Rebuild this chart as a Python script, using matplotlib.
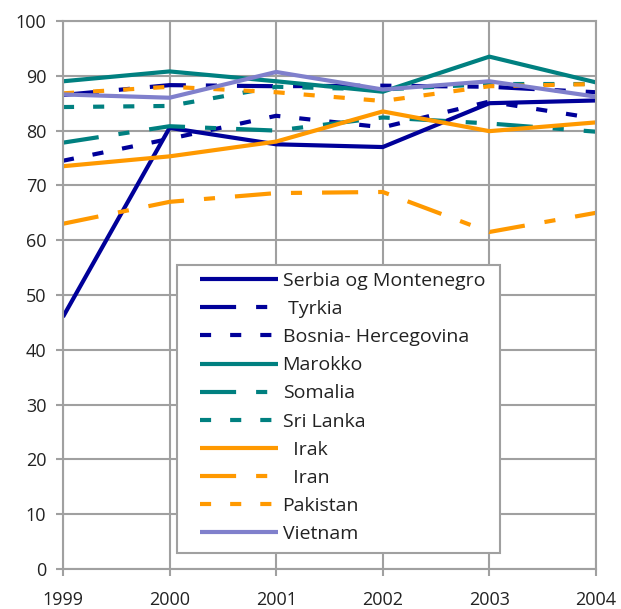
import matplotlib
matplotlib.use("Agg")
import matplotlib.pyplot as plt
from matplotlib.patches import Rectangle

years = [1999, 2000, 2001, 2002, 2003, 2004]

serbia = [46.0, 80.5, 77.5, 77.0, 85.0, 85.5]
tyrkia = [86.5, 88.3, 88.1, 88.2, 88.0, 87.0]
bosnia = [74.5, 78.5, 82.7, 80.6, 85.3, 82.2]
marokko = [89.0, 90.8, 89.0, 87.1, 93.5, 88.8]
somalia = [77.8, 80.8, 80.0, 82.4, 81.3, 79.8]
srilanka = [84.3, 84.5, 88.0, 87.5, 88.5, 88.5]
irak = [73.5, 75.3, 78.0, 83.5, 79.9, 81.5]
iran = [63.0, 67.0, 68.6, 68.8, 61.5, 65.0]
pakistan = [86.8, 88.0, 87.0, 85.4, 88.1, 88.5]
vietnam = [86.6, 86.0, 90.7, 87.5, 89.0, 86.2]

navn = ["Serbia og Montenegro", " Tyrkia", "Bosnia- Hercegovina", "Marokko",
        "Somalia", "Sri Lanka", "  Irak", "  Iran", "Pakistan", "Vietnam"]

plt.rcParams["font.family"] = ["Open Sans", "DejaVu Sans"]
plt.rcParams["lines.scale_dashes"] = False

NAVY = "#000099"
TEAL = "#008080"
ORANGE = "#FF9900"
LILLA = "#8080CC"
GRID = "#A0A0A0"

solid = "-"
langstrek = (0, (26, 14.4, 8, 14.4))
prikk = (0, (8, 13.7))

serier = [
    (serbia, NAVY, solid), (tyrkia, NAVY, langstrek), (bosnia, NAVY, prikk),
    (marokko, TEAL, solid), (somalia, TEAL, langstrek), (srilanka, TEAL, prikk),
    (irak, ORANGE, solid), (iran, ORANGE, langstrek), (pakistan, ORANGE, prikk),
    (vietnam, LILLA, solid),
]

fig = plt.figure(figsize=(6.21, 6.09), dpi=100)
ax = fig.add_axes([0.1014, 0.0657, 0.8583, 0.8998])

for (verdi, farge, stil), n in zip(serier, navn):
    ax.plot(years, verdi, color=farge, linestyle=stil, lw=3.0, label=n,
            solid_capstyle="butt", dash_capstyle="butt")

ax.set_xlim(1999, 2004)
ax.set_ylim(0, 100)
ax.set_xticks(years)
ax.set_yticks(range(0, 101, 10))
ax.grid(True, color=GRID, lw=1.5)
ax.set_axisbelow(True)
for s in ax.spines.values():
    s.set_color(GRID)
    s.set_linewidth(1.5)
ax.tick_params(colors=GRID, width=1.5, length=5, labelcolor="#222222",
               labelsize=13)
ax.tick_params(axis="y", pad=7)
ax.tick_params(axis="x", pad=11)

# legend-ramme tegnes for seg, litt bredere enn innholdet
ramme = Rectangle((0.214, 0.029), 0.606, 0.526, transform=ax.transAxes,
                  facecolor="white", edgecolor=GRID, lw=1.5, zorder=4.5,
                  clip_on=False)
ax.add_patch(ramme)

leg = ax.legend(loc="upper left", bbox_to_anchor=(0.257, 0.542), fontsize=14,
                frameon=False, handlelength=4.0,
                borderpad=0, labelspacing=0.52, handletextpad=0.25,
                borderaxespad=0)
for t in leg.get_texts():
    t.set_color("#222222")

fig.savefig("out.png", dpi=100)
